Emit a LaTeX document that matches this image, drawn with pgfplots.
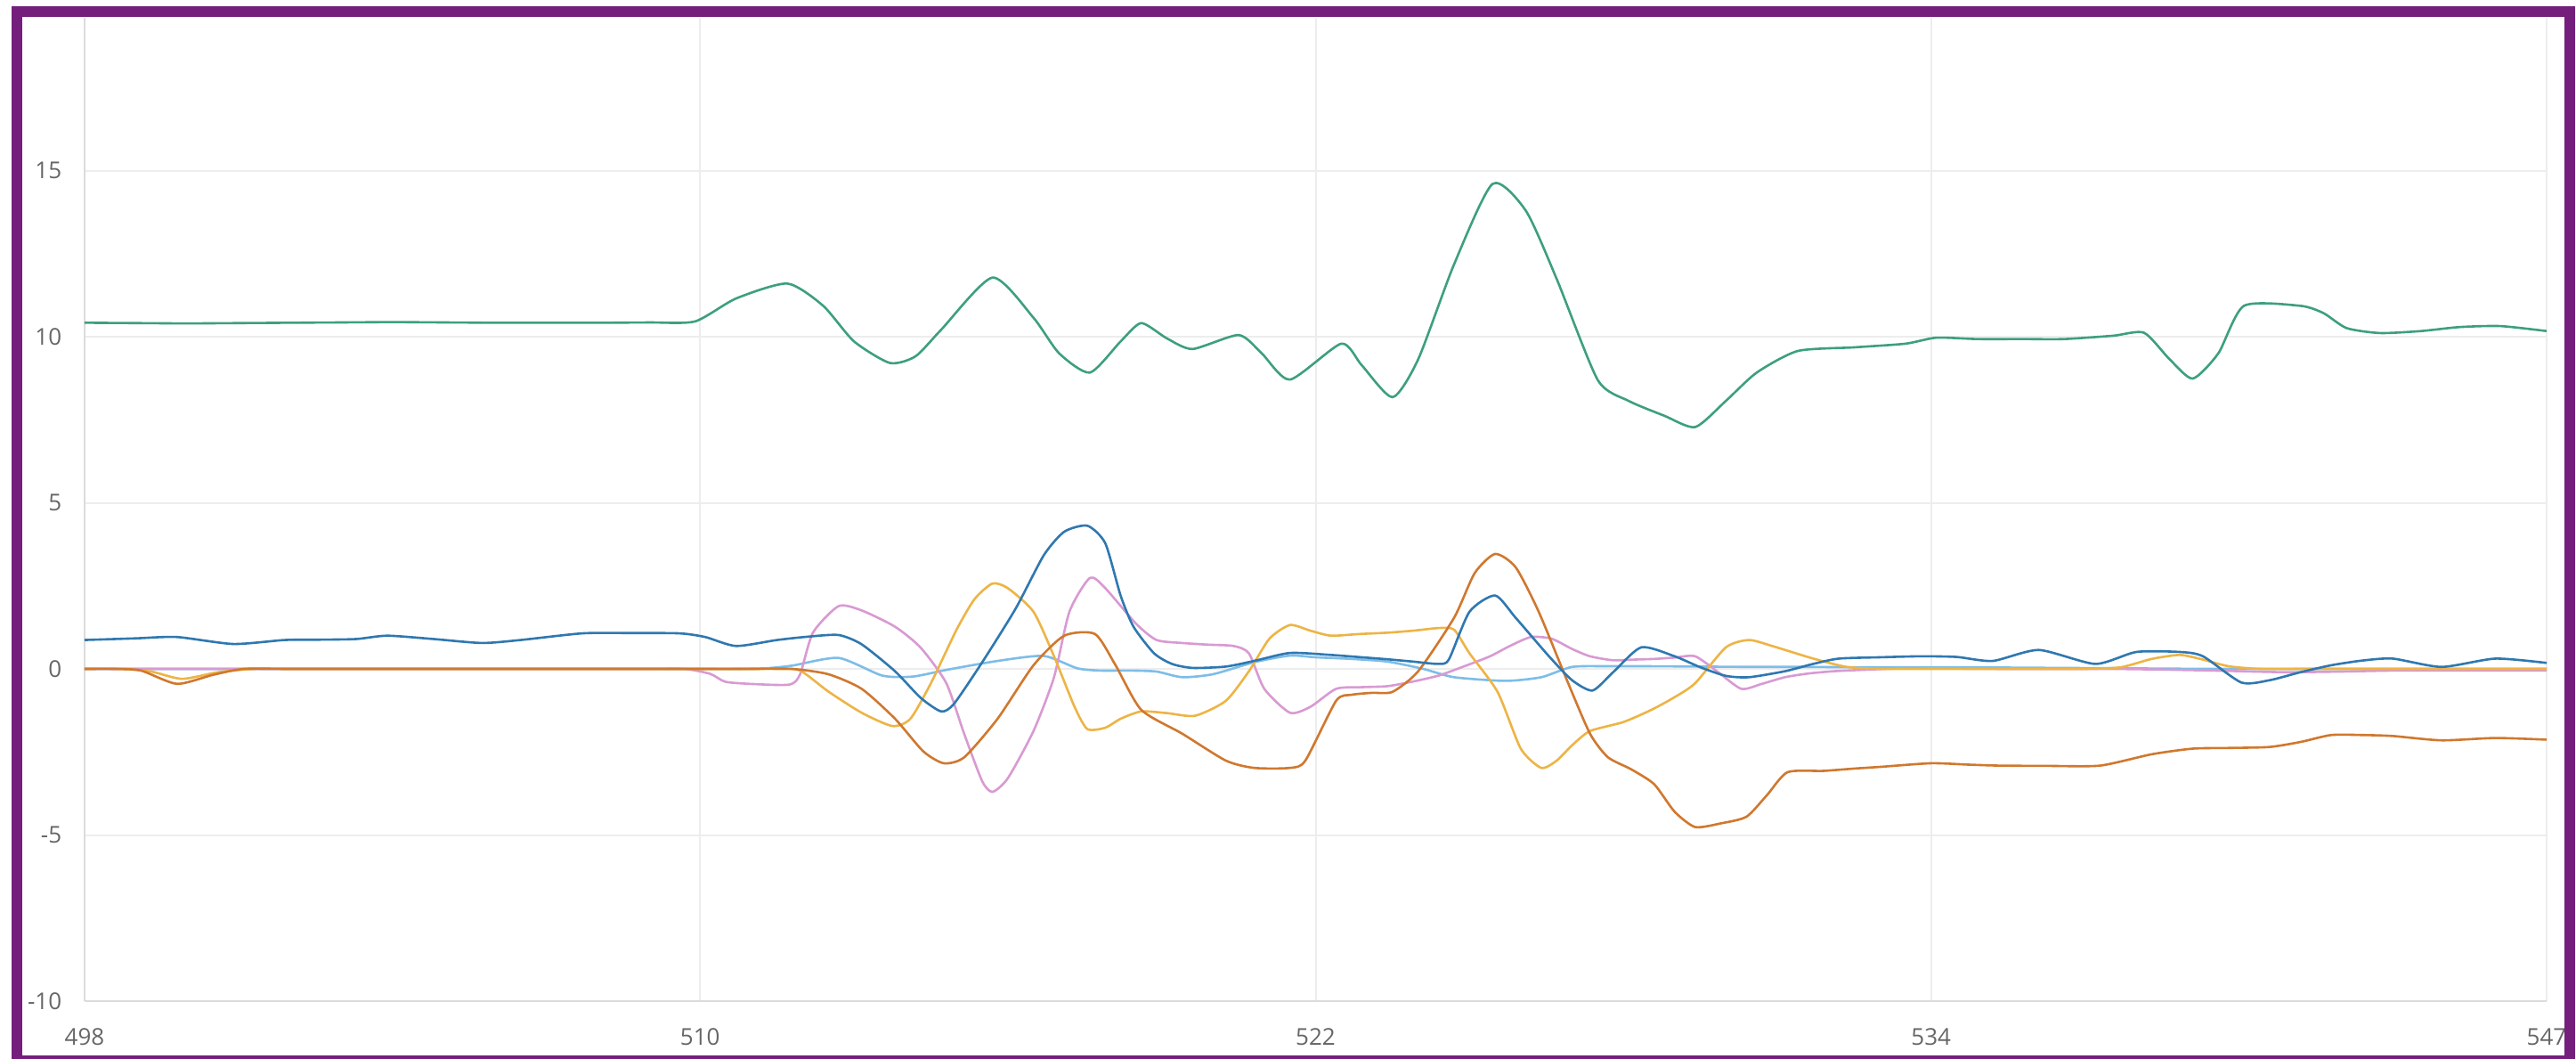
\documentclass[border=0pt]{standalone}
\usepackage{pgfplots}
\pgfplotsset{compat=1.18}
\usepackage{fontspec}
\setmainfont{Open Sans}
\definecolor{cgreen}{HTML}{3D9F80}
\definecolor{cdblue}{HTML}{2F78B0}
\definecolor{clblue}{HTML}{7DBDE8}
\definecolor{cgold}{HTML}{EDB445}
\definecolor{cbrown}{HTML}{D0782E}
\definecolor{cpink}{HTML}{D89AD2}
\definecolor{cborder}{HTML}{741F7C}
\begin{document}
\begin{tikzpicture}
\useasboundingbox (0pt,0pt) rectangle (723.25pt,297.25pt);
\begin{axis}[
  at={(23.75pt,16.25pt)}, anchor=south west,
  scale only axis, width=691.25pt, height=276pt,
  xmin=498, xmax=546, ymin=-10, ymax=19.6,
  xtick={498,510,522,534,546}, xticklabels={498,510,522,534,547},
  ytick={-10,-5,0,5,10,15},
  grid=major, major grid style={draw=black!7, line width=0.5pt},
  axis x line*=bottom, axis y line*=left,
  axis line style={draw=black!14, line width=0.5pt, -},
  major tick length=0pt, tick style={draw=none},
  ticklabel style={font=\fontsize{6.5}{7}\selectfont, text=black!60},
  /pgf/number format/assume math mode=true,
  xticklabel style={inner sep=0pt, yshift=-7.4pt},
  yticklabel style={inner sep=0pt, xshift=-6.25pt},
  every axis plot/.append style={line width=0.65pt, smooth, tension=0.4, mark=none},
]
% green
\addplot[cgreen] table {
498 10.42
499 10.41
500 10.40
501 10.41
502 10.42
503 10.43
504 10.44
505 10.43
506 10.42
507 10.42
508 10.42
509 10.43
509.9 10.46
510.7 11.15
511.7 11.6
512.4 10.93
513.0 9.86
513.7 9.21
514.2 9.41
514.7 10.21
515.7 11.78
516.5 10.57
517.0 9.5
517.6 8.92
518.2 9.86
518.6 10.41
519.1 9.95
519.6 9.63
520.5 10.05
520.95 9.5
521.5 8.71
522.5 9.79
522.9 9.14
523.5 8.18
524.0 9.32
524.7 12.18
525.45 14.6
526.1 13.79
526.7 11.74
527.5 8.7
528.1 8.07
528.8 7.62
529.4 7.28
530.0 8.07
530.6 8.92
531.4 9.57
532.5 9.68
533.5 9.79
534.1 9.97
534.9 9.93
535.8 9.93
536.6 9.93
537.55 10.03
538.15 10.12
538.65 9.32
539.1 8.74
539.6 9.5
540.1 10.93
541.2 10.93
541.65 10.71
542.1 10.26
542.75 10.11
543.55 10.17
544.3 10.29
545.1 10.32
546 10.17
};
% light blue
\addplot[clblue] table {
498 0
499 0
500 0
501 0
502 0
503 0
504 0
505 0
506 0
507 0
508 0
509 0
510 0
510.7 0
511.3 0.02
511.8 0.1
512.7 0.33
513.55 -0.2
514.15 -0.23
514.8 -0.03
515.8 0.24
516.7 0.39
517.35 0.02
517.8 -0.05
518.4 -0.05
518.9 -0.08
519.4 -0.25
520.0 -0.16
520.8 0.2
521.5 0.4
522.0 0.35
522.7 0.3
523.4 0.22
524.1 0.0
524.7 -0.25
525.7 -0.36
526.4 -0.25
527.0 0.06
527.7 0.08
528.5 0.08
529.5 0.07
530.5 0.06
531.5 0.06
532.5 0.05
533.5 0.05
534.5 0.05
535.5 0.04
536.5 0.03
537.5 0.02
538.5 0.01
539.5 0
540.5 0
541.5 0
542.5 0
543.5 0
544.5 0
545.3 0
546 0.0
};
% pink
\addplot[cpink] table {
498 0
499 0
500 0
501 0
502 0
503 0
504 0
505 0
506 0
507 0
508 0
509 0
509.7 0
510.2 -0.15
510.5 -0.39
511.1 -0.46
511.75 -0.47
511.95 -0.16
512.2 1.09
512.7 1.89
513.15 1.76
513.8 1.27
514.3 0.64
514.8 -0.43
515.15 -1.96
515.5 -3.38
515.7 -3.7
516.0 -3.29
516.5 -1.87
516.9 -0.25
517.2 1.72
517.6 2.74
517.9 2.43
518.5 1.36
518.9 0.87
519.4 0.78
519.9 0.73
520.4 0.69
520.7 0.47
521.0 -0.6
521.5 -1.32
521.9 -1.14
522.4 -0.6
522.9 -0.55
523.4 -0.52
523.9 -0.38
524.4 -0.2
524.9 0.08
525.4 0.38
525.8 0.7
526.2 0.96
526.6 0.91
527.0 0.6
527.35 0.38
527.8 0.26
528.2 0.28
528.6 0.3
529.0 0.34
529.4 0.38
529.85 -0.1
530.3 -0.6
530.7 -0.45
531.15 -0.25
531.6 -0.14
532.1 -0.07
532.8 -0.02
533.5 0.02
534.5 0.01
535.5 0
536.5 0
537.5 0
538.5 -0.02
539.5 -0.05
540.3 -0.08
541 -0.1
542 -0.08
543 -0.05
544 -0.05
545 -0.05
546 -0.05
};
% gold
\addplot[cgold] table {
498 0
498.7 0
499.3 -0.08
499.9 -0.3
500.6 -0.1
501.3 0
502 0
503 0
504 0
505 0
506 0
507 0
508 0
509 0
510 0
511 0
511.5 0
511.95 -0.05
512.5 -0.68
513.15 -1.32
513.75 -1.72
514.1 -1.5
514.5 -0.43
515.0 1.18
515.35 2.1
515.7 2.57
516.0 2.43
516.5 1.72
516.9 0.38
517.3 -1.14
517.55 -1.81
517.9 -1.77
518.2 -1.5
518.6 -1.28
519.1 -1.33
519.65 -1.41
520.25 -0.96
520.7 -0.07
521.1 0.91
521.5 1.32
521.9 1.15
522.3 1.0
522.85 1.05
523.4 1.09
523.9 1.15
524.4 1.23
524.7 1.18
525.0 0.47
525.55 -0.7
526.0 -2.4
526.4 -2.98
526.7 -2.76
527.0 -2.3
527.35 -1.87
528.0 -1.6
528.55 -1.23
529.0 -0.85
529.4 -0.43
530.0 0.65
530.45 0.87
530.9 0.69
531.3 0.5
531.75 0.29
532.35 0.06
533 0
534 0
535 0
536 0
537 0
537.7 0.05
538.3 0.3
538.85 0.42
539.3 0.28
539.8 0.08
540.4 0
541.2 0
542 0
543 0
544 0
545 0
546 0
};
% brown
\addplot[cbrown] table {
498 0
498.6 0
499.1 -0.05
499.8 -0.45
500.5 -0.18
501.1 0
502 0
503 0
504 0
505 0
506 0
507 0
508 0
509 0
510 0
511 0
511.8 0
512.5 -0.16
513.15 -0.6
513.8 -1.5
514.35 -2.48
514.75 -2.84
515.15 -2.66
515.8 -1.5
516.5 0.11
517.1 1.0
517.7 1.05
518.1 0.11
518.6 -1.23
519.4 -1.95
520.25 -2.76
520.8 -2.98
521.5 -2.98
521.8 -2.76
522.4 -0.96
522.7 -0.78
523.1 -0.72
523.5 -0.69
524.0 -0.07
524.7 1.54
525.1 2.88
525.5 3.46
525.9 3.06
526.35 1.72
526.9 -0.34
527.35 -1.95
527.7 -2.66
528.15 -3.02
528.6 -3.47
529.0 -4.3
529.4 -4.76
529.9 -4.65
530.4 -4.45
530.8 -3.8
531.2 -3.11
531.9 -3.07
532.5 -3.0
533.0 -2.95
534.0 -2.84
534.7 -2.88
535.3 -2.91
536.3 -2.92
537.3 -2.91
538.3 -2.57
539.1 -2.4
539.8 -2.38
540.6 -2.35
541.2 -2.2
541.8 -1.99
542.4 -1.99
543.0 -2.02
543.95 -2.15
545.0 -2.08
546 -2.13
};
% dark blue
\addplot[cdblue] table {
498 0.87
499 0.92
499.8 0.96
500.9 0.75
501.9 0.87
502.6 0.88
503.3 0.9
503.9 1.0
504.8 0.9
505.75 0.78
506.5 0.87
507.7 1.07
508.6 1.08
509.6 1.07
510.1 0.96
510.7 0.69
511.5 0.87
512.1 0.97
512.7 1.02
513.15 0.74
513.8 -0.07
514.3 -0.87
514.7 -1.28
514.95 -1.05
515.5 0.2
516.15 1.81
516.7 3.42
517.1 4.13
517.55 4.31
517.9 3.78
518.2 2.2
518.45 1.27
518.85 0.47
519.2 0.15
519.6 0.03
520.25 0.07
520.8 0.24
521.5 0.48
522.3 0.42
522.9 0.35
523.4 0.29
523.9 0.22
524.4 0.15
524.6 0.29
525.0 1.72
525.5 2.21
525.9 1.54
526.55 0.38
527.0 -0.34
527.4 -0.65
527.8 -0.1
528.35 0.65
529.0 0.38
529.5 0.05
530.0 -0.21
530.45 -0.25
531.15 -0.07
531.7 0.15
532.2 0.31
533.0 0.35
533.8 0.38
534.5 0.36
535.2 0.24
536.1 0.57
537.2 0.15
538.0 0.51
538.85 0.51
539.3 0.38
540.05 -0.41
540.6 -0.34
541.2 -0.1
541.8 0.11
542.4 0.25
543.0 0.31
543.95 0.06
545.0 0.31
546 0.18
};
\end{axis}
\draw[cborder, line width=3pt] (4.75pt,-0.5pt) rectangle (721.6pt,294pt);
\end{tikzpicture}
\end{document}
